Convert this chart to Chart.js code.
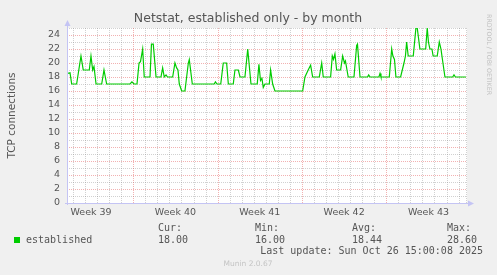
<!DOCTYPE html>
<html>
<head>
<meta charset="utf-8">
<title>Netstat, established only - by month</title>
<script src="https://cdn.jsdelivr.net/npm/chart.js@4.4.0/dist/chart.umd.min.js"></script>
<style>
  html, body { margin: 0; padding: 0; background: #f0f0f0; }
  canvas { display: block; }
</style>
</head>
<body>
<canvas id="netstat" width="497" height="275"></canvas>
<script>
// x = days since the left edge of the month window, y = established connections
const days = [
  0, 0.25, 0.39, 0.80, 1.16, 1.35, 1.85, 1.99, 2.13, 2.24,
  2.41, 2.88, 3.07, 3.29, 5.23, 5.39, 5.56, 5.81, 5.98, 6.10,
  6.28, 6.41, 6.89, 7.01, 7.16, 7.39, 7.80, 7.94, 8.07, 8.22,
  8.34, 8.77, 8.96, 9.10, 9.21, 9.32, 9.52, 9.79, 10.07, 10.15,
  10.40, 12.22, 12.32, 12.45, 12.76, 12.97, 13.25, 13.39, 13.80, 13.94,
  14.22, 14.36, 14.77, 15.00, 15.27, 15.79, 15.93, 16.06, 16.18, 16.29,
  16.43, 16.79, 16.90, 17.07, 17.26, 19.56, 19.75, 20.02, 20.22, 20.39,
  20.94, 21.14, 21.27, 21.88, 22.02, 22.12, 22.24, 22.38, 22.71, 22.88,
  23.03, 23.11, 23.34, 23.82, 24.04, 24.11, 24.32, 24.94, 25.04, 25.15,
  25.89, 25.98, 26.06, 26.75, 26.95, 27.05, 27.18, 27.30, 27.69, 27.97,
  28.09, 28.19, 28.32, 28.74, 28.96, 29.07, 29.29, 29.77, 29.90, 30.00,
  30.12, 30.29, 30.39, 30.73, 30.90, 31.04, 31.12, 31.37, 32.01, 32.12,
  32.24, 33.11
];
const established = [
  18.5, 18.6, 17, 17, 21, 19, 19, 21, 19, 19.5,
  17, 17, 19, 17, 17, 17.3, 17, 17, 20, 20.2,
  22, 18, 18, 22.7, 22.7, 18, 18, 19.3, 18, 18.3,
  18, 18, 20, 19.3, 19, 17, 16, 16, 20, 20.5,
  17, 17, 17.3, 17, 17, 20, 20, 17, 17, 19,
  19, 18, 18, 22, 17, 17, 19.8, 17.5, 17.8, 16.5,
  17, 17, 19, 17, 16, 16, 18, 19, 19.7, 18,
  18, 20, 18, 18, 21, 20.5, 21.3, 19, 19, 21,
  20, 20.3, 18, 18, 22.5, 22.7, 18, 18, 18.3, 18,
  18, 18.5, 18, 18, 22, 21, 20.5, 18, 18, 20,
  21, 23, 21, 21, 25, 25, 22, 22, 25, 23,
  22, 22, 21, 21, 23, 22, 21, 18, 18, 18.3,
  18, 18
];

const weekTicks = [2, 9, 16, 23, 30];
const weekLabels = ['Week 39', 'Week 40', 'Week 41', 'Week 42', 'Week 43'];
const weekLines = [5.5, 12.5, 19.5, 26.5];
const yTicks = [0, 2, 4, 6, 8, 10, 12, 14, 16, 18, 20, 22, 24];

const statHeads = ['Cur:', 'Min:', 'Avg:', 'Max:'];
const statValues = ['18.00', '16.00', '18.44', '28.60'];
const lastUpdate = 'Last update: Sun Oct 26 15:00:08 2025';

const GREEN = '#00cc00';
const TEXT = '#555555';
const MINOR = 'rgba(140,140,140,0.4)';
const MAJOR = 'rgba(225,70,70,0.42)';

// white plot area on grey canvas
const backdrop = {
  id: 'backdrop',
  beforeDraw(chart) {
    const { ctx, chartArea: a } = chart;
    ctx.save();
    ctx.fillStyle = '#f0f0f0';
    ctx.fillRect(0, 0, chart.width, chart.height);
    ctx.fillStyle = '#ffffff';
    ctx.fillRect(a.left, a.top, a.right - a.left, a.bottom - a.top);
    ctx.restore();
  }
};

// rrdtool style dotted grid: grey every day / unit, red every week / 2 units
const dottedGrid = {
  id: 'dottedGrid',
  beforeDatasetsDraw(chart) {
    const { ctx, chartArea: a, scales: { x, y } } = chart;
    ctx.save();
    ctx.lineWidth = 1;
    ctx.setLineDash([1, 1]);
    const vline = (px, color) => {
      const xx = Math.round(px) + 0.5;
      ctx.strokeStyle = color;
      ctx.beginPath(); ctx.moveTo(xx, a.top); ctx.lineTo(xx, a.bottom); ctx.stroke();
    };
    const hline = (py, color) => {
      const yy = Math.round(py) + 0.5;
      ctx.strokeStyle = color;
      ctx.beginPath(); ctx.moveTo(a.left, yy); ctx.lineTo(a.right, yy); ctx.stroke();
    };
    for (let d = 0.5; d < x.max; d += 1) {
      if (!weekLines.includes(d)) vline(x.getPixelForValue(d), MINOR);
    }
    vline(a.right - 1, MINOR);
    for (let v = 1; v <= y.max; v += 1) {
      if (!yTicks.includes(v)) hline(y.getPixelForValue(v), MINOR);
    }
    weekLines.forEach(d => vline(x.getPixelForValue(d), MAJOR));
    yTicks.forEach(v => { if (v > 0) hline(y.getPixelForValue(v), MAJOR); });
    ctx.restore();
  }
};

// axes with arrows and all the surrounding munin texts
const munin = {
  id: 'munin',
  afterDatasetsDraw(chart) {
    const { ctx, chartArea: a } = chart;
    ctx.save();
    const axis = '#c4c4f4';
    ctx.strokeStyle = axis;
    ctx.fillStyle = axis;
    ctx.lineWidth = 1;
    ctx.beginPath();
    ctx.moveTo(a.left + 0.5, a.bottom + 2);
    ctx.lineTo(a.left + 0.5, a.top - 4);
    ctx.moveTo(a.left - 2, a.bottom + 0.5);
    ctx.lineTo(a.right + 4, a.bottom + 0.5);
    ctx.stroke();
    ctx.beginPath();
    ctx.moveTo(a.left + 0.5, a.top - 8);
    ctx.lineTo(a.left - 2.5, a.top - 2);
    ctx.lineTo(a.left + 3.5, a.top - 2);
    ctx.closePath();
    ctx.fill();
    ctx.beginPath();
    ctx.moveTo(a.right + 7, a.bottom + 0.5);
    ctx.lineTo(a.right + 1, a.bottom - 2.5);
    ctx.lineTo(a.right + 1, a.bottom + 3.5);
    ctx.closePath();
    ctx.fill();
    ctx.restore();
  },
  afterDraw(chart) {
    const { ctx, chartArea: a } = chart;
    ctx.save();
    ctx.fillStyle = TEXT;
    ctx.textBaseline = 'middle';

    ctx.font = '12.5px "DejaVu Sans"';
    ctx.textAlign = 'center';
    ctx.fillText('Netstat, established only - by month', 248, 19);

    ctx.save();
    ctx.translate(12, (a.top + a.bottom) / 2);
    ctx.rotate(-Math.PI / 2);
    ctx.font = '10.5px "DejaVu Sans"';
    ctx.fillText('TCP connections', 0, 0);
    ctx.restore();

    ctx.save();
    ctx.translate(489, 14);
    ctx.rotate(Math.PI / 2);
    ctx.textAlign = 'left';
    ctx.fillStyle = '#c0c0c0';
    ctx.font = '6.3px "DejaVu Sans"';
    ctx.fillText('RRDTOOL / TOBI OETIKER', 0, 0);
    ctx.restore();

    ctx.fillStyle = GREEN;
    ctx.fillRect(14, 237, 6, 6);

    ctx.fillStyle = TEXT;
    ctx.textAlign = 'left';
    ctx.font = '10px "DejaVu Sans Mono"';
    ctx.fillText('established', 26, 240);
    const cols = [158, 255, 352, 447];
    statHeads.forEach((h, i) => ctx.fillText(h, cols[i], 228));
    statValues.forEach((v, i) => ctx.fillText(v, cols[i], 240));
    ctx.textAlign = 'right';
    ctx.fillText(lastUpdate, 483, 251);

    ctx.textAlign = 'center';
    ctx.fillStyle = '#c4c4c4';
    ctx.font = '7.5px "DejaVu Sans"';
    ctx.fillText('Munin 2.0.67', 248, 264);
    ctx.restore();
  }
};

new Chart(document.getElementById('netstat'), {
  type: 'line',
  data: {
    datasets: [{
      label: 'established',
      data: days.map((d, i) => ({ x: d, y: established[i] })),
      borderColor: GREEN,
      borderWidth: 1.2,
      pointRadius: 0,
      tension: 0,
      fill: false
    }]
  },
  options: {
    responsive: false,
    animation: false,
    devicePixelRatio: 1,
    layout: { padding: { left: 0, right: 30, top: 28, bottom: 0 } },
    plugins: {
      legend: { display: false },
      title: { display: false },
      tooltip: { enabled: false }
    },
    scales: {
      x: {
        type: 'linear',
        min: 0,
        max: 33.2,
        grid: { display: false, drawTicks: false },
        border: { display: false },
        afterBuildTicks: s => { s.ticks = weekTicks.map(v => ({ value: v })); },
        afterFit: s => { s.height = 72; },
        ticks: {
          autoSkip: false,
          maxRotation: 0,
          padding: 4,
          color: TEXT,
          font: { family: 'DejaVu Sans', size: 9.5 },
          callback: v => weekLabels[weekTicks.indexOf(v)]
        }
      },
      y: {
        min: 0,
        max: 25,
        grid: { display: false, drawTicks: false },
        border: { display: false },
        afterBuildTicks: s => { s.ticks = yTicks.map(v => ({ value: v })); },
        afterFit: s => { s.width = 67; },
        ticks: {
          padding: 7,
          color: TEXT,
          font: { family: 'DejaVu Sans', size: 9.5 }
        }
      }
    }
  },
  plugins: [backdrop, dottedGrid, munin]
});
</script>
</body>
</html>
